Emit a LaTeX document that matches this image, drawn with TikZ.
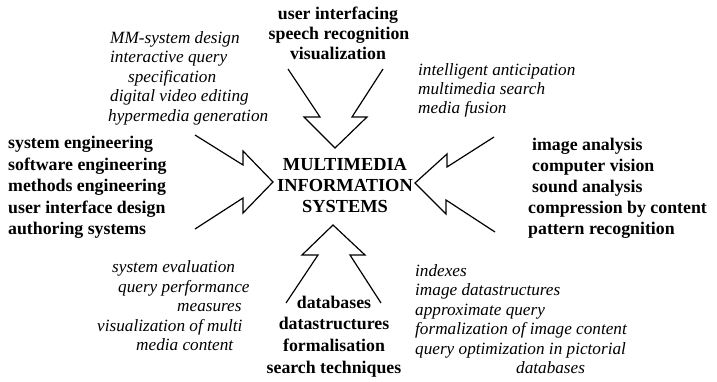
\documentclass[tikz,border=0pt]{standalone}
\usepackage{fontspec}
\setmainfont{Liberation Serif}
\begin{document}
\begin{tikzpicture}[x=1pt,y=-1pt,
  bf/.style={font=\fontsize{17.8}{21}\selectfont\bfseries, inner sep=0pt},
  it/.style={font=\fontsize{17.2}{20}\selectfont\itshape, inner sep=0pt},
  bw/.style={anchor=base west},
  bc/.style={anchor=base},
  title/.style={font=\fontsize{18.4}{21}\selectfont\bfseries, inner sep=0pt, anchor=base},
  bigarrow/.style={line width=1.2pt, line join=miter, line cap=butt}]
\useasboundingbox (0,0) rectangle (717,381);

% central title
\node[title] (t1) at (345,170) {MULTIMEDIA};
\node[title] (t2) at (345,191) {INFORMATION};
\node[title] (t3) at (345,212) {SYSTEMS};

% open arrows pointing at the title
\draw[bigarrow] (288,69) -- (320,117) -- (304,117) -- (335,148) -- (367,117) -- (352,117) -- (383,69);
\draw[bigarrow] (195,135) -- (243,165) -- (243,151) -- (273,182) -- (243,213) -- (243,198) -- (195,229);
\draw[bigarrow] (494,137) -- (447,167) -- (447,154) -- (415,183) -- (446,214) -- (446,200) -- (495,232);
\draw[bigarrow] (286,303) -- (318,255) -- (302,255) -- (333,225) -- (365,255) -- (350,255) -- (381,303);

% top: bold
\node[bf,bc] (u1) at (338,19) {user interfacing};
\node[bf,bc] (u2) at (339,39) {speech recognition};
\node[bf,bc] (u3) at (338,59) {visualization};

% top left: italic
\node[it,bw] (a1) at (110,43) {MM-system design};
\node[it,bw] (a2) at (110,62) {interactive query};
\node[it,bw] (a3) at (128,82) {specification};
\node[it,bw] (a4) at (110,101) {digital video editing};
\node[it,bw] (a5) at (108,121) {hypermedia generation};

% top right: italic
\node[it,bw] (b1) at (418,75) {intelligent anticipation};
\node[it,bw] (b2) at (418,94) {multimedia search};
\node[it,bw] (b3) at (418,113) {media fusion};

% left: bold
\node[bf,bw] (l1) at (8,148) {system engineering};
\node[bf,bw] (l2) at (8,170) {software engineering};
\node[bf,bw] (l3) at (8,191) {methods engineering};
\node[bf,bw] (l4) at (8,213) {user interface design};
\node[bf,bw] (l5) at (8,234) {authoring systems};

% right: bold
\node[bf,bw] (r1) at (532,150) {image analysis};
\node[bf,bw] (r2) at (532,171) {computer vision};
\node[bf,bw] (r3) at (532,192) {sound analysis};
\node[bf,bw] (r4) at (528,213) {compression by content};
\node[bf,bw] (r5) at (528,234) {pattern recognition};

% bottom left: italic
\node[it,bw] (c1) at (112,272) {system evaluation};
\node[it,bw] (c2) at (118,292) {query performance};
\node[it,bw] (c3) at (177,311) {measures};
\node[it,bw] (c4) at (97,331) {visualization of multi};
\node[it,bw] (c5) at (136,350) {media content};

% bottom: bold
\node[bf,bc] (d1) at (334,308) {databases};
\node[bf,bc] (d2) at (334,329) {datastructures};
\node[bf,bc] (d3) at (334,351) {formalisation};
\node[bf,bc] (d4) at (334,373) {search techniques};

% bottom right: italic
\node[it,bw] (e1) at (415,276) {indexes};
\node[it,bw] (e2) at (415,295) {image datastructures};
\node[it,bw] (e3) at (415,315) {approximate query};
\node[it,bw] (e4) at (415,334) {formalization of image content};
\node[it,bw] (e5) at (415,354) {query optimization in pictorial};
\node[it,bw] (e6) at (516,373) {databases};
\end{tikzpicture}
\end{document}
